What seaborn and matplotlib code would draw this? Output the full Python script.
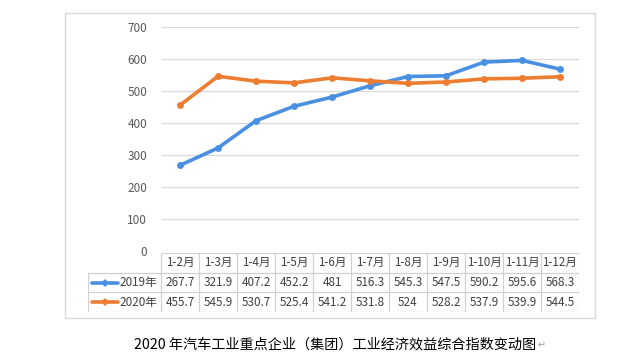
import pandas as pd
import matplotlib.pyplot as plt
import seaborn as sns
from matplotlib.patches import Rectangle
from matplotlib.lines import Line2D

months = ['1-2月', '1-3月', '1-4月', '1-5月', '1-6月', '1-7月', '1-8月', '1-9月', '1-10月', '1-11月', '1-12月']
series_names = ['2019年', '2020年']
v2019 = [267.7, 321.9, 407.2, 452.2, 481, 516.3, 545.3, 547.5, 590.2, 595.6, 568.3]
v2020 = [455.7, 545.9, 530.7, 525.4, 541.2, 531.8, 524, 528.2, 537.9, 539.9, 544.5]
yticks = [0, 100, 200, 300, 400, 500, 600, 700]
title = '2020 年汽车工业重点企业（集团）工业经济效益综合指数变动图'

colors = {'2019年': '#4A90E2', '2020年': '#ED7D31'}

df = pd.DataFrame({
    'month': months * 2,
    'pos': list(range(len(months))) * 2,
    'value': v2019 + v2020,
    'series': [series_names[0]] * len(months) + [series_names[1]] * len(months),
})

sns.set_theme(style='white')
plt.rcParams['font.family'] = ['Noto Sans CJK SC', 'DejaVu Sans']

W, H = 640, 355
fig = plt.figure(figsize=(6.4, 3.55), dpi=100)
fig.patch.set_facecolor('white')

# chart frame
fig.patches.append(Rectangle((65 / W, 1 - 318 / H), (595 - 65) / W, (318 - 13) / H,
                             transform=fig.transFigure, fill=False,
                             edgecolor='#D9D9D9', lw=1))

# main plot
ax = fig.add_axes([161 / W, 1 - 251 / H, (579 - 161) / W, (251 - 27) / H])
sns.lineplot(data=df, x='pos', y='value', hue='series', palette=colors,
             marker='o', markersize=5, markeredgewidth=0, linewidth=2.6,
             legend=False, ax=ax)
for ln in ax.lines:
    ln.set_clip_on(False)
ax.set_xlim(-0.5, len(months) - 0.5)
ax.set_ylim(0, 700)
ax.set_yticks(yticks)
ax.set_xticks([])
ax.set_xlabel('')
ax.set_ylabel('')
ax.tick_params(axis='y', length=0, labelsize=8.5, labelcolor='#595959', pad=10)
ax.grid(axis='y', color='#D9D9D9', lw=0.9)
for s in ax.spines.values():
    s.set_visible(False)
ax.set_facecolor('none')

# data table
left_w = (161 - 88) / 38
tx = fig.add_axes([88 / W, 1 - 312 / H, (579 - 88) / W, (312 - 253) / H])
x0 = -0.5 - left_w
x1 = len(months) - 0.5
tx.set_xlim(x0, x1)
tx.set_ylim(3, 0)
tx.axis('off')
gc = '#D0D0D0'
tx.plot([-0.5, x1], [0, 0], color=gc, lw=0.9)
for yy in [1, 2, 3]:
    tx.plot([x0, x1], [yy, yy], color=gc, lw=0.9)
tx.plot([x0, x0], [1, 3], color=gc, lw=0.9)
for i in range(len(months) + 1):
    tx.plot([i - 0.5, i - 0.5], [0, 3], color=gc, lw=0.9)

tc = '#404040'
fs = 8.4
for i, m in enumerate(months):
    tx.text(i, 0.5, m, ha='center', va='center', fontsize=fs, color=tc)
    tx.text(i, 1.5, f'{v2019[i]:g}', ha='center', va='center', fontsize=fs, color=tc)
    tx.text(i, 2.5, f'{v2020[i]:g}', ha='center', va='center', fontsize=fs, color=tc)

for r, name in enumerate(series_names):
    yy = 1.5 + r
    lx0 = -0.5 + (92 - 161) / 38
    lx1 = -0.5 + (118 - 161) / 38
    tx.add_line(Line2D([lx0, lx1], [yy, yy], color=colors[name], lw=2.6))
    tx.plot([(lx0 + lx1) / 2], [yy], 'D', color=colors[name], ms=4.5, mew=0)
    tx.text(-0.5 + (119 - 161) / 38, yy, name, ha='left', va='center',
            fontsize=fs, color=tc)

# caption
fig.text(335 / W, 1 - 345 / H, title, ha='center', va='center',
         fontsize=10.2, color='black', fontweight='medium')
fig.text(538 / W, 1 - 345 / H, '↵', ha='left', va='center',
         fontsize=7, color='#A0A0A0', family=['DejaVu Sans'])

fig.savefig('out.png', dpi=100, facecolor='white')
